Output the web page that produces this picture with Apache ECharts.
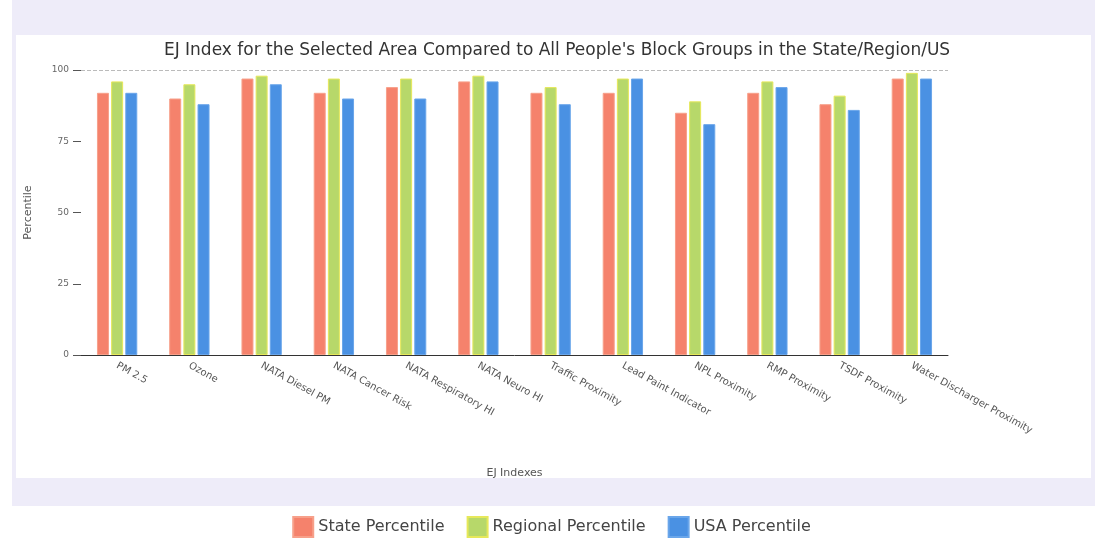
<!DOCTYPE html>
<html><head><meta charset="utf-8">
<script src="https://cdn.jsdelivr.net/npm/echarts@6/dist/echarts.min.js"></script>
<style>html,body{margin:0;padding:0;background:#fff}#c{width:1103px;height:539px}</style>
</head><body><div id="c"></div>
<script>
const categories = ["PM 2.5","Ozone","NATA Diesel PM","NATA Cancer Risk","NATA Respiratory HI","NATA Neuro HI","Traffic Proximity","Lead Paint Indicator","NPL Proximity","RMP Proximity","TSDF Proximity","Water Discharger Proximity"];
const statePct    = [92, 90, 97, 92, 94, 96, 92, 92, 85, 92, 88, 97];
const regionalPct = [96, 95, 98, 97, 97, 98, 94, 97, 89, 96, 91, 99];
const usaPct      = [92, 88, 95, 90, 90, 96, 88, 97, 81, 94, 86, 97];
const yTicks = [0, 25, 50, 75, 100];

const chart = echarts.init(document.getElementById('c'));
const font = 'DejaVu Sans';
chart.setOption({
  animation: false,
  backgroundColor: '#fff',
  graphic: [
    {type:'rect', z:-10, silent:true, shape:{x:12,y:0,width:1083,height:506}, style:{fill:'#eeecf9'}},
    {type:'rect', z:-9, silent:true, shape:{x:16,y:35,width:1075,height:443}, style:{fill:'#ffffff'}}
  ],
  title: {
    text: "EJ Index for the Selected Area Compared to All People's Block Groups in the State/Region/US",
    left: 552, textAlign: 'center', top: 37,
    textStyle: {fontFamily: font, fontSize: 17, fontWeight: 'normal', color: '#333'}
  },
  legend: {
    bottom: -4, left: 'center', itemWidth: 20, itemHeight: 20, itemGap: 22, icon: 'rect',
    textStyle: {fontFamily: font, fontSize: 16, color: '#444'},
    data: ['State Percentile','Regional Percentile','USA Percentile']
  },
  grid: {left: 81, right: 155, top: 70, bottom: 184},
  xAxis: {
    type: 'category', data: categories,
    name: 'EJ Indexes', nameLocation: 'middle', nameGap: 113,
    nameTextStyle: {fontFamily: font, fontSize: 11, color: '#555'},
    axisLine: {lineStyle: {color: '#333', width: 1}},
    axisTick: {show: false},
    axisLabel: {rotate: -29, interval: 0, fontFamily: font, fontSize: 10, color: '#555', margin: 10}
  },
  yAxis: {
    type: 'value', min: 0, max: 100, interval: 25,
    name: 'Percentile', nameLocation: 'middle', nameGap: 47,
    nameTextStyle: {fontFamily: font, fontSize: 11, color: '#555'},
    axisLine: {show: false},
    axisTick: {show: true, length: 8, lineStyle: {color: '#555'}},
    splitLine: {show: false},
    axisLabel: {fontFamily: font, fontSize: 9, color: '#666', margin: 12,
      formatter: v => yTicks.includes(v) ? String(v) : ''}
  },
  series: [
    {name: 'State Percentile', type: 'bar', data: statePct, barWidth: 12, barGap: '18%',
     itemStyle: {color: '#f5826c', borderColor: '#f7a08a', borderWidth: 1},
     markLine: {silent: true, symbol: 'none', label: {show: false},
       lineStyle: {type: 'dashed', color: '#bbb', width: 1}, data: [{yAxis: 100}]}},
    {name: 'Regional Percentile', type: 'bar', data: regionalPct, barWidth: 12, barGap: '18%',
     itemStyle: {color: '#b7d86a', borderColor: '#e6e85a', borderWidth: 1}},
    {name: 'USA Percentile', type: 'bar', data: usaPct, barWidth: 12, barGap: '18%',
     itemStyle: {color: '#4a91e3', borderColor: '#6aa6ea', borderWidth: 1}}
  ]
});
</script></body></html>
